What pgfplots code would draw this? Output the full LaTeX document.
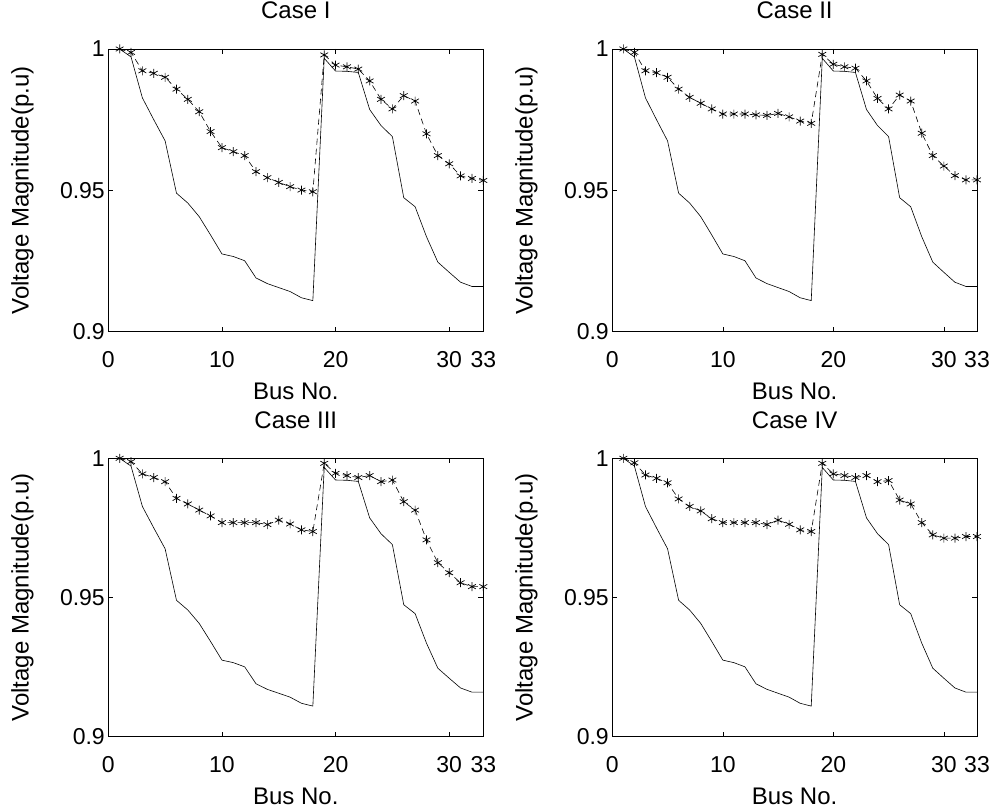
\documentclass[border=0pt]{standalone}
\usepackage{fontspec}
\setmainfont{Liberation Sans}
\usepackage{pgfplots}
\usepackage{pgfplotstable}
\pgfplotsset{compat=1.18}

% bus voltages: base case and the four compensated cases
\pgfplotstableread{
bus base   c1     c2     c3     c4
1   1.0000 1.0000 1.0000 1.0000 1.0000
2   0.9972 0.9988 0.9988 0.9988 0.9984
3   0.9827 0.9923 0.9923 0.9944 0.9940
4   0.9750 0.9914 0.9916 0.9931 0.9928
5   0.9675 0.9900 0.9900 0.9916 0.9912
6   0.9490 0.9858 0.9858 0.9856 0.9854
7   0.9455 0.9822 0.9829 0.9836 0.9827
8   0.9407 0.9778 0.9808 0.9814 0.9811
9   0.9342 0.9708 0.9788 0.9793 0.9783
10  0.9275 0.9651 0.9770 0.9769 0.9769
11  0.9266 0.9637 0.9770 0.9769 0.9769
12  0.9251 0.9623 0.9770 0.9769 0.9769
13  0.9190 0.9566 0.9767 0.9769 0.9769
14  0.9170 0.9545 0.9765 0.9762 0.9762
15  0.9156 0.9528 0.9772 0.9778 0.9778
16  0.9142 0.9513 0.9760 0.9764 0.9763
17  0.9120 0.9501 0.9745 0.9743 0.9743
18  0.9110 0.9495 0.9737 0.9737 0.9737
19  0.9967 0.9979 0.9981 0.9982 0.9982
20  0.9922 0.9943 0.9946 0.9946 0.9944
21  0.9921 0.9937 0.9937 0.9938 0.9938
22  0.9917 0.9929 0.9932 0.9931 0.9931
23  0.9786 0.9887 0.9887 0.9938 0.9938
24  0.9729 0.9822 0.9825 0.9916 0.9916
25  0.9690 0.9788 0.9788 0.9922 0.9920
26  0.9474 0.9835 0.9837 0.9844 0.9850
27  0.9442 0.9816 0.9816 0.9814 0.9836
28  0.9336 0.9700 0.9702 0.9707 0.9769
29  0.9246 0.9623 0.9623 0.9625 0.9725
30  0.9210 0.9594 0.9586 0.9589 0.9713
31  0.9175 0.9551 0.9552 0.9553 0.9713
32  0.9160 0.9542 0.9537 0.9539 0.9719
33  0.9160 0.9535 0.9537 0.9539 0.9719
}\vdata

\pgfplotsset{
  vplot/.style={
    scale only axis,
    anchor=south west,
    xmin=0, xmax=33, ymin=0.9, ymax=1,
    xtick={0,10,20,30,33},
    ytick={0.9,0.95,1},
    yticklabels={0.9,0.95,1},
    tick align=inside,
    tick pos=both,
    major tick length=5pt,
    axis line style={line width=0.8pt},
    every tick/.style={black, line width=0.6pt},
    /pgf/number format/assume math mode=true,
    font=\fontsize{24}{28}\selectfont,
    ticklabel style={font=\fontsize{23}{26}\selectfont},
    xticklabel style={anchor=base, yshift=-36pt},
    xlabel={Bus No.},
    ylabel={Voltage Magnitude(p.u)},
    xlabel style={at={(axis description cs:0.5,0)}, anchor=base, yshift=-68pt},
    ylabel style={at={([xshift=-86pt]axis description cs:0,0.5)}, anchor=center},
    title style={at={(axis description cs:0.5,1)}, anchor=base, yshift=24pt},
  },
  base/.style={black, line width=0.6pt},
  comp/.style={black, line width=0.6pt, dash pattern=on 6pt off 4pt,
    mark=asterisk, mark size=4.5pt, mark options={solid, line width=0.7pt}},
}

\begin{document}
\begin{tikzpicture}[x=1pt,y=1pt]
\useasboundingbox (0,0) rectangle (995,810);

\begin{axis}[vplot, at={(108.3pt,478.3pt)}, width=375pt, height=282.7pt, title={Case I}]
\addplot[base] table[x=bus,y=base]{\vdata};
\addplot[comp] table[x=bus,y=c1]{\vdata};
\end{axis}

\begin{axis}[vplot, at={(612.3pt,478.3pt)}, width=364.7pt, height=282.7pt, title={Case II}]
\addplot[base] table[x=bus,y=base]{\vdata};
\addplot[comp] table[x=bus,y=c2]{\vdata};
\end{axis}

\begin{axis}[vplot, at={(108.3pt,73.3pt)}, width=375pt, height=278.4pt, title={Case III}]
\addplot[base] table[x=bus,y=base]{\vdata};
\addplot[comp] table[x=bus,y=c3]{\vdata};
\end{axis}

\begin{axis}[vplot, at={(612.3pt,73.3pt)}, width=364.7pt, height=278.4pt, title={Case IV}]
\addplot[base] table[x=bus,y=base]{\vdata};
\addplot[comp] table[x=bus,y=c4]{\vdata};
\end{axis}
\end{tikzpicture}
\end{document}
